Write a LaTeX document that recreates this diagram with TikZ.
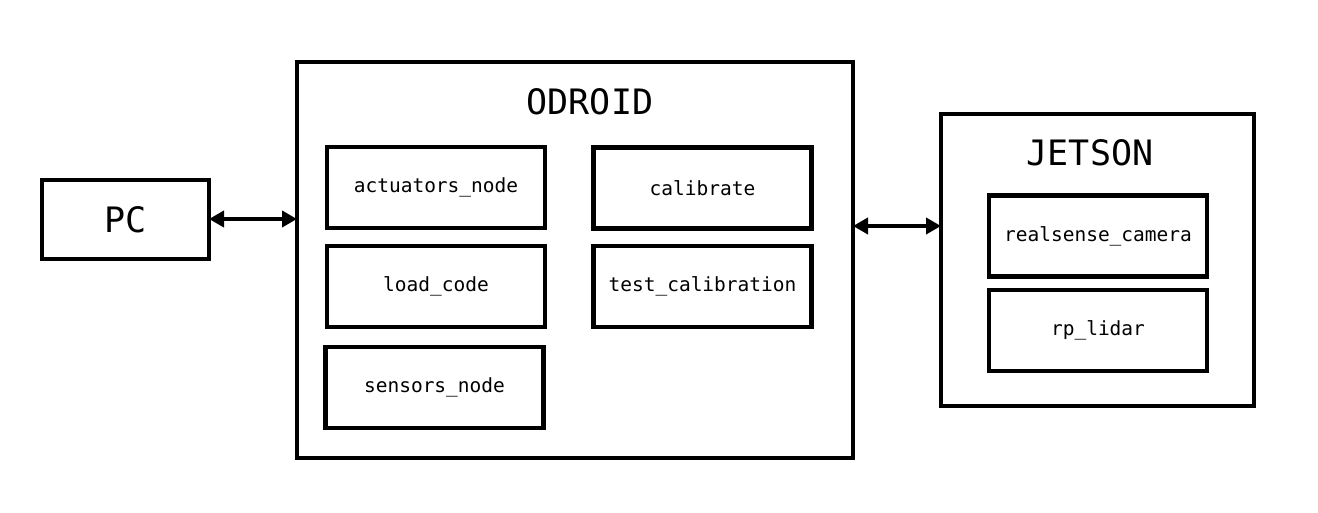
\documentclass[tikz,border=0pt]{standalone}
\usepackage{fontspec}
\setmonofont{DejaVu Sans Mono}
\usetikzlibrary{arrows.meta}
\begin{document}
\begin{tikzpicture}[x=1pt,y=-1pt,
  box/.style={draw, line width=4.6pt, inner sep=0pt, outer sep=0pt},
  sub/.style={box, minimum width=218pt, minimum height=81pt, font=\ttfamily\fontsize{19.5}{22}\selectfont},
  big/.style={font=\ttfamily\fontsize{35}{40}\selectfont, inner sep=0pt},
  conn/.style={line width=4.2pt, {Triangle[length=15pt,width=16pt]}-{Triangle[length=15pt,width=16pt]}}]
\useasboundingbox (0,0) rectangle (1318,513);
% outer containers
\node[box, minimum width=167pt, minimum height=79pt, font=\ttfamily\fontsize{35}{40}\selectfont] (pc) at (125.5,219.5) {PC};
\node[box, minimum width=556pt, minimum height=396pt] (odroid) at (575,260) {};
\node[box, minimum width=313pt, minimum height=292pt] (jetson) at (1097.5,260) {};
\node[big] (odt) at (590,102) {ODROID};
\node[big] (jet) at (1090,153) {JETSON};
% odroid children
\node[sub] (act) at (436,187.5) {actuators\_node};
\node[sub] (cal) at (702.5,188) {calibrate};
\node[sub] (load) at (436,286.5) {load\_code};
\node[sub] (test) at (702.5,286.5) {test\_calibration};
\node[sub] (sens) at (434.5,387.5) {sensors\_node};
% jetson children
\node[sub] (rs) at (1098,236) {realsense\_camera};
\node[sub] (rp) at (1098,330.5) {rp\_lidar};
% connectors
\coordinate (a1) at (pc.east |- 0,219);
\coordinate (a2) at (odroid.west |- 0,219);
\draw[conn] (a1) -- (a2);
\coordinate (b1) at (odroid.east |- 0,226);
\coordinate (b2) at (jetson.west |- 0,226);
\draw[conn] (b1) -- (b2);
\end{tikzpicture}
\end{document}
